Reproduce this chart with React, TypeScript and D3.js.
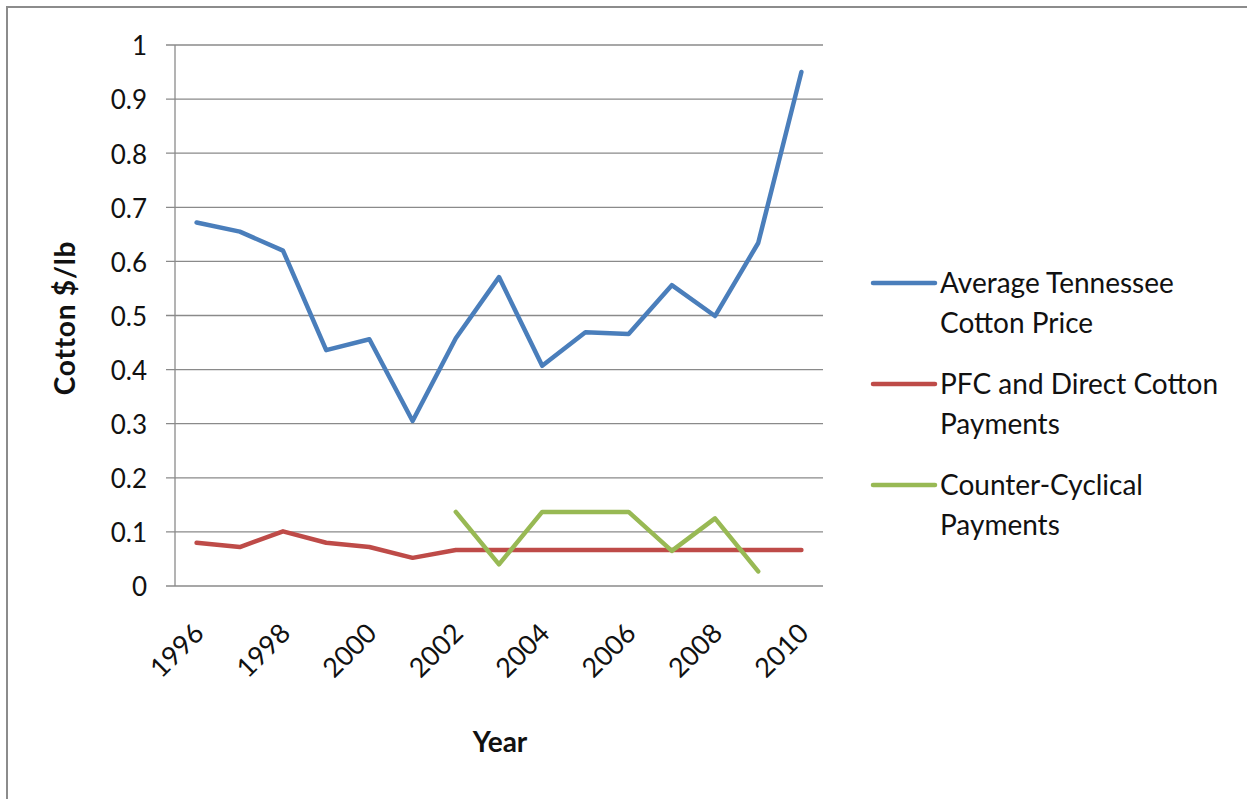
import React from "react";
import * as d3 from "d3";

const years = ["1996","1997","1998","1999","2000","2001","2002","2003","2004","2005","2006","2007","2008","2009","2010"];
const avgPrice = [0.672, 0.655, 0.62, 0.436, 0.456, 0.305, 0.458, 0.571, 0.407, 0.469, 0.466, 0.556, 0.499, 0.634, 0.95];
const pfcPayments = [0.08, 0.072, 0.101, 0.08, 0.072, 0.052, 0.0667, 0.0667, 0.0667, 0.0667, 0.0667, 0.0667, 0.0667, 0.0667, 0.0667];
const ccYears = ["2002","2003","2004","2005","2006","2007","2008","2009"];
const ccPayments = [0.137, 0.04, 0.137, 0.137, 0.137, 0.065, 0.125, 0.027];
const yTicks = [0, 0.1, 0.2, 0.3, 0.4, 0.5, 0.6, 0.7, 0.8, 0.9, 1];
const xLabelYears = ["1996","1998","2000","2002","2004","2006","2008","2010"];

const series = [
  { name: ["Average Tennessee", "Cotton Price"], color: "#4A7EBB" },
  { name: ["PFC and Direct Cotton", "Payments"], color: "#BE4B48" },
  { name: ["Counter-Cyclical", "Payments"], color: "#98B954" },
];

export default function App() {
  const W = 1247, H = 799;
  const left = 175, right = 823, top = 45, bottom = 586;
  const x = d3.scaleBand<string>().domain(years).range([left, right]);
  const cx = (yr: string) => (x(yr) as number) + x.bandwidth() / 2;
  const y = d3.scaleLinear().domain([0, 1]).range([bottom, top]);
  const font = "Lato, 'Open Sans', sans-serif";
  const ink = "#111";

  const line = d3.line<[string, number]>().x(d => cx(d[0])).y(d => y(d[1]));
  const blueD = line(years.map((yr, i) => [yr, avgPrice[i]] as [string, number])) || "";
  const redD = line(years.map((yr, i) => [yr, pfcPayments[i]] as [string, number])) || "";
  const greenD = line(ccYears.map((yr, i) => [yr, ccPayments[i]] as [string, number])) || "";
  const paths = [blueD, redD, greenD];

  return (
    <svg width={W} height={H} style={{ position: "absolute", left: 0, top: 0 }}>
      <rect x={0} y={0} width={W} height={H} fill="#fff" />
      <path d={`M7,${H} V7 H${W}`} fill="none" stroke="#8c8c8c" strokeWidth={2} />
      {yTicks.map(t => (
        <g key={t}>
          <line x1={166} x2={right} y1={y(t)} y2={y(t)} stroke="#8a8a8a" strokeWidth={1.3} />
          <text x={147} y={y(t) + 1} dy="0.36em" textAnchor="end" fontFamily={font} fontSize={26} fill={ink}>
            {d3.format("~g")(t)}
          </text>
        </g>
      ))}
      <line x1={left} x2={left} y1={top} y2={bottom} stroke="#8a8a8a" strokeWidth={1.3} />
      {xLabelYears.map(yr => (
        <text key={yr} transform={`translate(${cx(yr) + 9},${bottom + 49}) rotate(-45)`} textAnchor="end"
          fontFamily={font} fontSize={27} fill={ink}>{yr}</text>
      ))}
      {paths.map((d, i) => (
        <path key={i} d={d} fill="none" stroke={series[i].color} strokeWidth={4.5} strokeLinejoin="round" strokeLinecap="round" />
      ))}
      <text transform={`translate(75,318) rotate(-90)`} textAnchor="middle" fontFamily={font}
        fontWeight="bold" fontSize={28} letterSpacing={0.8} fill={ink}>Cotton $/lb</text>
      <text x={500} y={752} textAnchor="middle" fontFamily={font} fontWeight="bold" fontSize={28} fill={ink}>Year</text>
      {series.map((s, i) => {
        const ly = 283 + i * 101;
        return (
          <g key={i}>
            <line x1={873} x2={935} y1={ly} y2={ly} stroke={s.color} strokeWidth={4.5} strokeLinecap="round" />
            <text x={940} y={ly} dy="0.36em" fontFamily={font} fontSize={28} fill={ink}>{s.name[0]}</text>
            <text x={940} y={ly + 40} dy="0.36em" fontFamily={font} fontSize={28} fill={ink}>{s.name[1]}</text>
          </g>
        );
      })}
    </svg>
  );
}
